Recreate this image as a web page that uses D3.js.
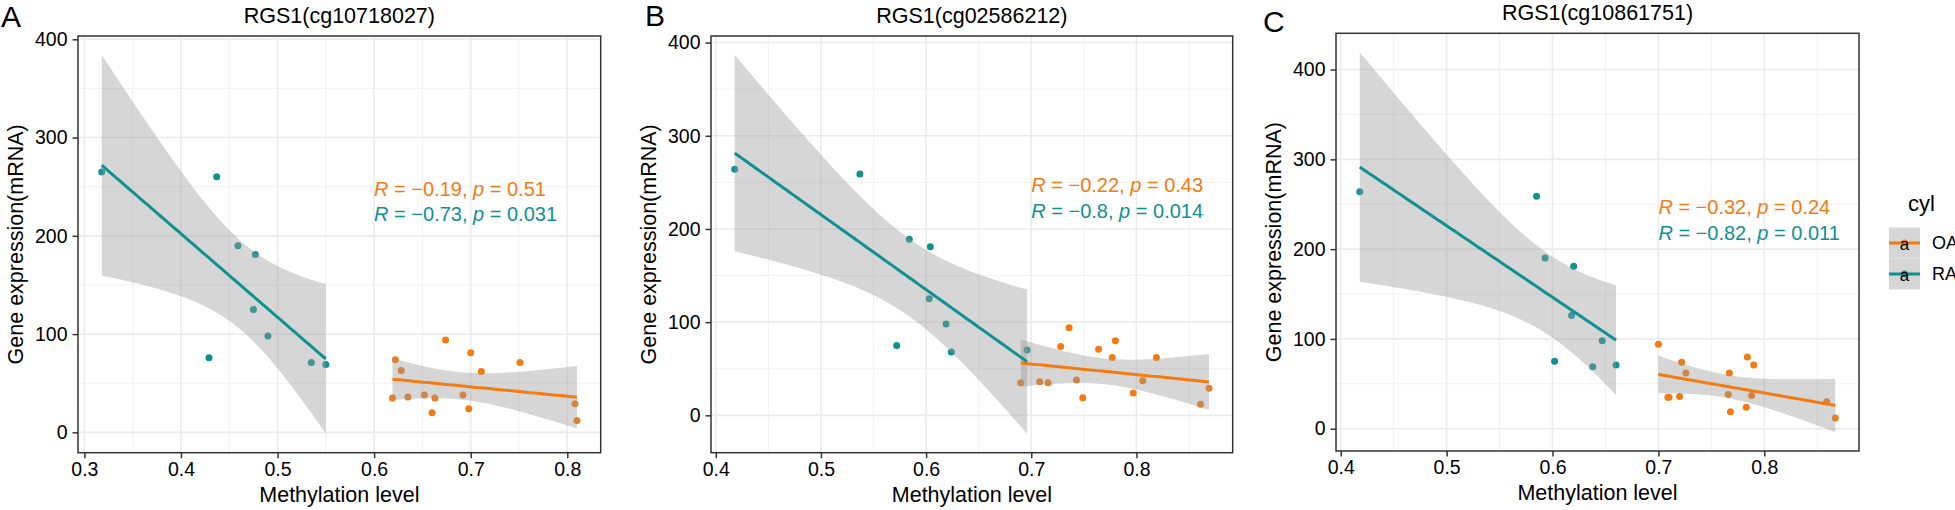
<!DOCTYPE html>
<html><head><meta charset="utf-8">
<script src="https://cdn.jsdelivr.net/npm/d3@7"></script>
<style>
body{margin:0;background:#fff}
svg{display:block}
text{font-family:"Liberation Sans", Arial, sans-serif; fill:#000}
</style>
</head><body><svg id="chart" width="1955" height="510"></svg>
<script>
// ---------------- data ----------------
const panelTitles = ["RGS1(cg10718027)", "RGS1(cg02586212)", "RGS1(cg10861751)"];
const panelLetters = ["A", "B", "C"];
const groups = ["OA", "RA"];
const legendTitle = "cyl";

// Panel A
const oaX_A = [0.622, 0.628, 0.674, 0.700, 0.711, 0.751, 0.619, 0.635, 0.652, 0.663, 0.660, 0.692, 0.698, 0.808, 0.810];
const oaY_A = [74, 63, 94, 81, 62, 71, 35, 36, 38, 35, 20, 38, 24, 29, 12];
const raX_A = [0.318, 0.437, 0.459, 0.477, 0.475, 0.490, 0.429, 0.535, 0.550];
const raY_A = [265, 260, 190, 181, 125, 98, 76, 71, 69];
// Panel B
const oaX_B = [0.728, 0.736, 0.764, 0.780, 0.777, 0.819, 0.690, 0.708, 0.716, 0.743, 0.749, 0.797, 0.806, 0.861, 0.869];
const oaY_B = [74, 94, 71, 80, 62, 62, 35, 36, 35, 38, 19, 24, 37, 12, 29];
const raX_B = [0.418, 0.537, 0.584, 0.604, 0.603, 0.619, 0.572, 0.624, 0.696];
const raY_B = [264, 259, 189, 181, 125, 98, 75, 68, 70];
// Panel C
const oaX_C = [0.700, 0.722, 0.726, 0.767, 0.784, 0.790, 0.709, 0.720, 0.766, 0.788, 0.768, 0.783, 0.859, 0.867, 0.710];
const oaY_C = [94, 74, 62, 62, 80, 71, 35, 36, 38, 37, 19, 24, 30, 12, 35];
const raX_C = [0.418, 0.585, 0.593, 0.620, 0.618, 0.647, 0.602, 0.638, 0.660];
const raY_C = [264, 259, 190, 181, 126, 98, 75, 69, 71];

// correlation labels
const statR_OA = ["−0.19", "−0.22", "−0.32"];
const statP_OA = ["0.51", "0.43", "0.24"];
const statR_RA = ["−0.73", "−0.8", "−0.82"];
const statP_RA = ["0.031", "0.014", "0.011"];
const labelX = [0.6, 0.7, 0.7];
const labelY = [248, 247, 246.5];

const xTicks = [[0.3, 0.4, 0.5, 0.6, 0.7, 0.8], [0.4, 0.5, 0.6, 0.7, 0.8], [0.4, 0.5, 0.6, 0.7, 0.8]];
const yTicks = [0, 100, 200, 300, 400];
const xTitle = "Methylation level";
const yTitle = "Gene expression(mRNA)";

// ---------------- styling / layout ----------------
const colors = {OA: "#F47B0F", RA: "#0F9191"};
const layout = [
  {l: 78, r: 600.7, t: 36, b: 452.7, lx: 1, ly: 27},
  {l: 711, r: 1232.7, t: 36, b: 452.7, lx: 645, ly: 26},
  {l: 1336, r: 1859, t: 33.3, b: 451, lx: 1263, ly: 32}
];
const panelData = [
  {OA: [oaX_A, oaY_A], RA: [raX_A, raY_A]},
  {OA: [oaX_B, oaY_B], RA: [raX_B, raY_B]},
  {OA: [oaX_C, oaY_C], RA: [raX_C, raY_C]}
];
const tTable = {7: 2.364624, 8: 2.306004, 11: 2.200985, 12: 2.178813, 13: 2.160369, 14: 2.144787};

function fitLM(xs, ys) {
  const n = xs.length;
  const mx = d3.mean(xs), my = d3.mean(ys);
  let sxx = 0, sxy = 0;
  for (let i = 0; i < n; i++) { sxx += (xs[i]-mx)**2; sxy += (xs[i]-mx)*(ys[i]-my); }
  const b = sxy / sxx, a = my - b*mx;
  let sse = 0;
  for (let i = 0; i < n; i++) sse += (ys[i] - (a + b*xs[i]))**2;
  const s = Math.sqrt(sse/(n-2));
  const t = tTable[n-2];
  const [x0, x1] = d3.extent(xs);
  return d3.range(80).map(k => {
    const x = x0 + (x1-x0)*k/79;
    const yh = a + b*x;
    const se = s*Math.sqrt(1/n + (x-mx)**2/sxx);
    return {x, y: yh, lo: yh - t*se, hi: yh + t*se};
  });
}

const svg = d3.select("#chart");

panelData.forEach((pd, i) => {
  const L = layout[i];
  const fits = {};
  groups.forEach(g => fits[g] = fitLM(pd[g][0], pd[g][1]));
  const allX = groups.flatMap(g => pd[g][0]);
  const allY = groups.flatMap(g => pd[g][1].concat(fits[g].map(p => p.lo), fits[g].map(p => p.hi)));
  const [xa, xb] = d3.extent(allX), [ya, yb] = d3.extent(allY);
  const ex = (xb-xa)*0.05, ey = (yb-ya)*0.05;
  const x = d3.scaleLinear().domain([xa-ex, xb+ex]).range([L.l, L.r]);
  const y = d3.scaleLinear().domain([ya-ey, yb+ey]).range([L.b, L.t]);

  const g = svg.append("g");
  const clipId = "clip" + i;
  g.append("clipPath").attr("id", clipId).append("rect")
    .attr("x", L.l).attr("y", L.t).attr("width", L.r-L.l).attr("height", L.b-L.t);
  const inner = g.append("g").attr("clip-path", `url(#${clipId})`);

  // grid
  const xt = xTicks[i];
  const xMinor = d3.range(xt.length+1).map(k => xt[0] - 0.05 + k*0.1);
  const yMinor = [-50, 50, 150, 250, 350, 450];
  inner.selectAll(".gxm").data(xMinor).join("line")
    .attr("x1", d => x(d)).attr("x2", d => x(d)).attr("y1", L.t).attr("y2", L.b)
    .attr("stroke", "#F1F1F1").attr("stroke-width", 1);
  inner.selectAll(".gym").data(yMinor).join("line")
    .attr("y1", d => y(d)).attr("y2", d => y(d)).attr("x1", L.l).attr("x2", L.r)
    .attr("stroke", "#F1F1F1").attr("stroke-width", 1);
  inner.selectAll(".gx").data(xt).join("line")
    .attr("x1", d => x(d)).attr("x2", d => x(d)).attr("y1", L.t).attr("y2", L.b)
    .attr("stroke", "#EBEBEB").attr("stroke-width", 1.6);
  inner.selectAll(".gy").data(yTicks).join("line")
    .attr("y1", d => y(d)).attr("y2", d => y(d)).attr("x1", L.l).attr("x2", L.r)
    .attr("stroke", "#EBEBEB").attr("stroke-width", 1.6);

  // points
  groups.forEach(gr => {
    const [xs, ys] = pd[gr];
    inner.selectAll(".p" + gr).data(xs.map((v, k) => [v, ys[k]])).join("circle")
      .attr("cx", d => x(d[0])).attr("cy", d => y(d[1])).attr("r", 3.5)
      .attr("fill", colors[gr]);
  });
  // ribbons
  groups.forEach(gr => {
    inner.append("path").datum(fits[gr])
      .attr("d", d3.area().x(d => x(d.x)).y0(d => y(d.lo)).y1(d => y(d.hi)))
      .attr("fill", "#999999").attr("fill-opacity", 0.4);
  });
  // lines
  groups.forEach(gr => {
    inner.append("path").datum(fits[gr])
      .attr("d", d3.line().x(d => x(d.x)).y(d => y(d.y)))
      .attr("fill", "none").attr("stroke", colors[gr]).attr("stroke-width", 3);
  });

  // stat labels
  const lines = [[statR_OA[i], statP_OA[i], colors.OA], [statR_RA[i], statP_RA[i], colors.RA]];
  lines.forEach((ln, k) => {
    const t = g.append("text")
      .attr("x", x(labelX[i])).attr("y", y(labelY[i]) + k*25.5)
      .attr("dominant-baseline", "central")
      .style("font-size", "20px");
    t.append("tspan").attr("font-style", "italic").attr("fill", ln[2]).text("R");
    t.append("tspan").attr("fill", ln[2]).text(" = " + ln[0] + ", ");
    t.append("tspan").attr("font-style", "italic").attr("fill", ln[2]).text("p");
    t.append("tspan").attr("fill", ln[2]).text(" = " + ln[1]);
  });

  // border
  g.append("rect").attr("x", L.l).attr("y", L.t).attr("width", L.r-L.l).attr("height", L.b-L.t)
    .attr("fill", "none").attr("stroke", "#333333").attr("stroke-width", 1.5);

  // axes
  const xAxis = g.append("g").attr("transform", `translate(0,${L.b})`)
    .call(d3.axisBottom(x).tickValues(xt).tickFormat(d3.format(".1f")).tickSizeOuter(0).tickSize(5.5).tickPadding(4));
  const yAxis = g.append("g").attr("transform", `translate(${L.l},0)`)
    .call(d3.axisLeft(y).tickValues(yTicks).tickFormat(d3.format("d")).tickSizeOuter(0).tickSize(5.5).tickPadding(5));
  [xAxis, yAxis].forEach(ax => {
    ax.select(".domain").remove();
    ax.selectAll(".tick line").attr("stroke", "#333333").attr("stroke-width", 1.5);
    ax.selectAll(".tick text").style("font-size", "19.5px").attr("fill", "#1a1a1a")
      .style("font-family", '"Liberation Sans", Arial, sans-serif');
  });

  // titles
  g.append("text").attr("x", (L.l+L.r)/2).attr("y", L.t - 13).attr("text-anchor", "middle")
    .style("font-size", "21.5px").text(panelTitles[i]);
  g.append("text").attr("x", (L.l+L.r)/2).attr("y", L.b + 49).attr("text-anchor", "middle")
    .style("font-size", "21.5px").text(xTitle);
  g.append("text").attr("transform", `translate(${L.l - 55},${(L.t+L.b)/2}) rotate(-90)`)
    .attr("text-anchor", "middle").style("font-size", "21.5px").text(yTitle);
  g.append("text").attr("x", L.lx).attr("y", L.ly).style("font-size", "30px").text(panelLetters[i]);
});

// legend
const leg = svg.append("g");
leg.append("text").attr("x", 1908).attr("y", 211).style("font-size", "22px").text(legendTitle);
groups.forEach((gr, k) => {
  const ky = 227.5 + k*31;
  leg.append("rect").attr("x", 1889).attr("y", ky).attr("width", 31).attr("height", 31).attr("fill", "#D6D6D6");
  leg.append("line").attr("x1", 1889).attr("x2", 1920).attr("y1", ky+15.5).attr("y2", ky+15.5)
    .attr("stroke", colors[gr]).attr("stroke-width", 3);
  leg.append("circle").attr("cx", 1904.5).attr("cy", ky+15.5).attr("r", 3.5).attr("fill", colors[gr]);
  leg.append("text").attr("x", 1904.5).attr("y", ky+22).attr("text-anchor", "middle")
    .style("font-size", "17px").attr("fill", colors[gr]).text("a");
  leg.append("text").attr("x", 1932).attr("y", ky+15.5).attr("dominant-baseline", "central")
    .style("font-size", "18px").text(gr);
});
</script>
</body></html>
